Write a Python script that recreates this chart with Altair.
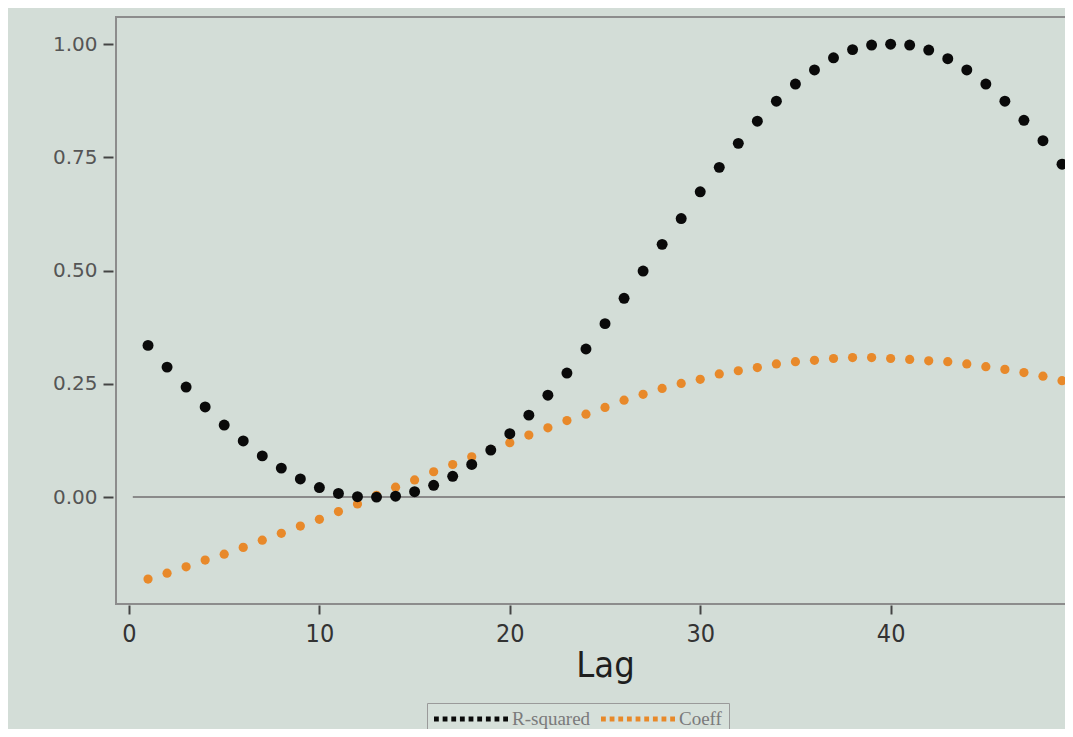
import altair as alt
import pandas as pd

lags = list(range(1, 50))
r_squared = [0.335, 0.287, 0.243, 0.199, 0.159, 0.124, 0.091, 0.064, 0.040, 0.021,
             0.008, 0.001, 0.000, 0.002, 0.012, 0.026, 0.046, 0.072, 0.104, 0.140,
             0.181, 0.225, 0.274, 0.327, 0.383, 0.439, 0.499, 0.558, 0.615, 0.674,
             0.728, 0.781, 0.830, 0.874, 0.912, 0.943, 0.970, 0.988, 0.998, 1.000,
             0.998, 0.987, 0.968, 0.943, 0.912, 0.874, 0.832, 0.787, 0.735]
coeff = [-0.181, -0.168, -0.154, -0.139, -0.126, -0.111, -0.095, -0.080, -0.064, -0.049,
         -0.032, -0.015, 0.004, 0.022, 0.038, 0.056, 0.072, 0.089, 0.105, 0.120,
         0.137, 0.153, 0.169, 0.183, 0.198, 0.214, 0.227, 0.240, 0.251, 0.260,
         0.272, 0.279, 0.286, 0.294, 0.299, 0.302, 0.306, 0.308, 0.308, 0.306,
         0.304, 0.301, 0.299, 0.294, 0.288, 0.282, 0.275, 0.267, 0.257]
series_names = ["R-squared", "Coeff"]
series_colors = ["#0a0a0a", "#e8892a"]
y_ticks = [0.0, 0.25, 0.5, 0.75, 1.0]
x_ticks = [0, 10, 20, 30, 40, 50]

df = pd.concat([
    pd.DataFrame({"lag": lags, "value": r_squared, "series": series_names[0]}),
    pd.DataFrame({"lag": lags, "value": coeff, "series": series_names[1]}),
])
zero = pd.DataFrame({"x": [0.2], "x2": [50.68], "y": [0.0]})

XDOM = [-0.682, 50.68]
YDOM = [-0.236, 1.06]

# dotted-line legend symbol (9 small squares in the unit box)
n = 9
w = 0.13
step = (2 - w) / (n - 1)
dots = " ".join(f"M{-1 + i * step:.3f},-0.07h{w}v0.14h-{w}z" for i in range(n))

xs = alt.Scale(domain=XDOM, nice=False, zero=False)
ys = alt.Scale(domain=YDOM, nice=False, zero=False)
cs = alt.Scale(domain=series_names, range=series_colors)

x_axis = alt.Axis(values=x_ticks, tickSize=9, offset=1, labelPadding=7, domain=False, grid=False,
                  labelFont="Liberation Sans Narrow, DejaVu Sans Condensed, Liberation Sans",
                  labelFontSize=25, labelColor="#333333", tickColor="#444444", tickWidth=2,
                  title="Lag", titleFont="Liberation Sans Narrow, DejaVu Sans Condensed, Liberation Sans",
                  titleFontSize=36, titleFontWeight="normal", titleColor="#1e1e1e", titlePadding=2)
y_axis = alt.Axis(values=y_ticks, format=".2f", tickSize=10, offset=3, labelPadding=6, domain=False,
                  grid=False, labelFont="DejaVu Sans", labelFontSize=20, labelColor="#555555",
                  tickColor="#444444", tickWidth=2, title=None)

legend = alt.Legend(title=None, orient="none", legendX=311, legendY=686, direction="horizontal",
                    symbolType=dots, symbolSize=74 * 74, symbolStrokeWidth=0, clipHeight=18,
                    labelFont="Liberation Serif", labelFontSize=19, labelColor="#7a7a7a",
                    labelOffset=4, columnPadding=10, padding=7, strokeColor="#9a9a9a",
                    fillColor="#d6e0da")

rule = alt.Chart(zero).mark_rule(color="#8a8a8a", strokeWidth=2).encode(
    x=alt.X("x:Q", scale=xs, axis=x_axis), x2="x2:Q", y=alt.Y("y:Q", scale=ys, axis=y_axis))

orange = alt.Chart(df).transform_filter(alt.datum.series == "Coeff").mark_point(
    filled=True, size=85, opacity=1).encode(
    x=alt.X("lag:Q", scale=xs, axis=x_axis),
    y=alt.Y("value:Q", scale=ys, axis=y_axis),
    color=alt.Color("series:N", scale=cs, legend=legend, sort=series_names))

black = alt.Chart(df).transform_filter(alt.datum.series == "R-squared").mark_point(
    filled=True, size=120, opacity=1).encode(
    x=alt.X("lag:Q", scale=xs, axis=x_axis),
    y=alt.Y("value:Q", scale=ys, axis=y_axis),
    color=alt.Color("series:N", scale=cs, legend=legend, sort=series_names))

chart = alt.layer(rule, orange, black).properties(
    width=978, height=587,
    autosize=alt.AutoSizeParams(type="none"),
    padding={"left": 108, "top": 9, "right": -29, "bottom": 125},
    background="#d3ddd7",
).configure_view(stroke="#8c8c8c", strokeWidth=2, fill="#d3ddd7")

chart.save("out.html", embed_options={"renderer": "svg", "actions": False})
